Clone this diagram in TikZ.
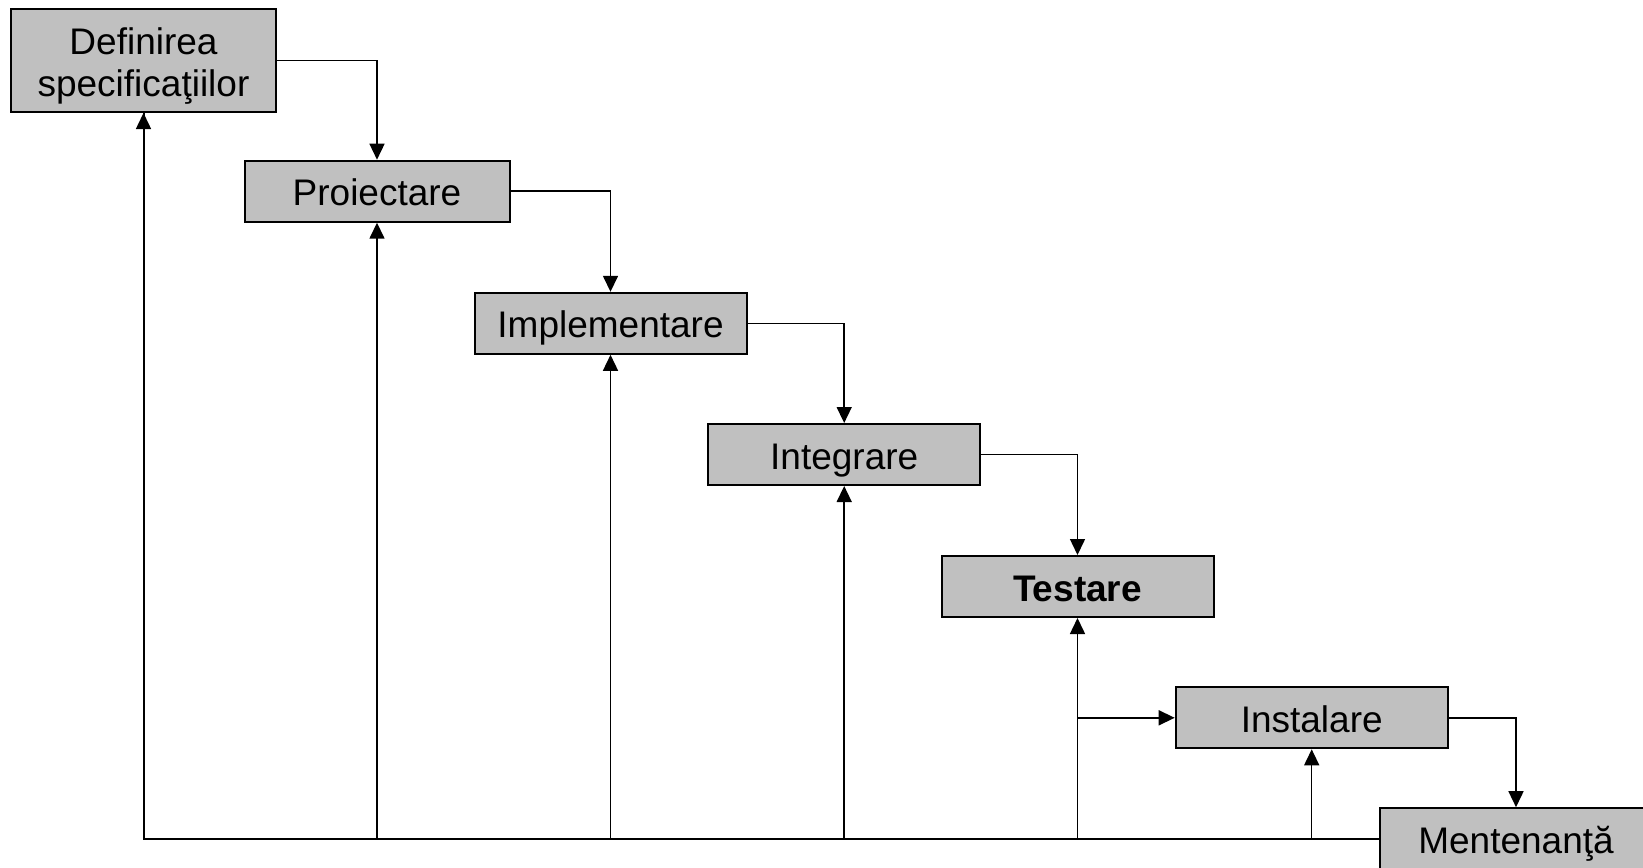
\documentclass[tikz,border=0pt]{standalone}
\usepackage{fontspec}
\setmainfont{Liberation Sans}
\usetikzlibrary{arrows.meta}
\definecolor{boxgray}{HTML}{C0C0C0}
\begin{document}
\begin{tikzpicture}[x=1pt,y=-1pt,
  phase/.style={draw=black, line width=2pt, fill=boxgray, minimum height=61pt,
    minimum width=272pt, inner sep=0pt, align=center,
    text height=29pt, text depth=0pt,
    font=\fontsize{37}{42}\selectfont},
  conn/.style={line width=1.5pt, -{Triangle[length=16pt,width=15pt]}},
  bus/.style={line width=2pt}]
  \useasboundingbox (0,0) rectangle (1643,867);

  % phases of the waterfall
  \node[phase, minimum width=265pt, minimum height=103pt, text height=71pt] (def) at (143.5,60.5) {Definirea\\specificaţiilor};
  \node[phase, minimum width=265pt] (proi) at (377,191.2) {Proiectare};
  \node[phase] (impl) at (610.5,323.3) {Implementare};
  \node[phase] (integ) at (844.2,454.5) {Integrare};
  \node[phase, font=\fontsize{37}{42}\selectfont\bfseries] (test) at (1077.5,586.5) {Testare};
  \node[phase] (inst) at (1311.7,717.8) {Instalare};
  \node[phase] (ment) at (1516,838.7) {Mentenanţă};

  % forward flow
  \draw[conn] (def.east) -| (proi.north);
  \draw[conn] (proi.east) -| (impl.north);
  \draw[conn] (impl.east) -| (integ.north);
  \draw[conn] (integ.east) -| (test.north);
  \draw[conn] (inst.east) -| (ment.north);

  % feedback from maintenance
  \draw[bus] (ment.west) -| (def.south);
  \draw[conn] (def.south |- ment.west) -- (def.south);
  \draw[conn] (proi.south |- ment.west) -- (proi.south);
  \draw[conn] (impl.south |- ment.west) -- (impl.south);
  \draw[conn] (integ.south |- ment.west) -- (integ.south);
  \draw[conn] (test.south |- ment.west) -- (test.south);
  \draw[conn] (inst.south |- ment.west) -- (inst.south);
  \draw[conn] (test.south |- inst.west) -- (inst.west);
\end{tikzpicture}
\end{document}
